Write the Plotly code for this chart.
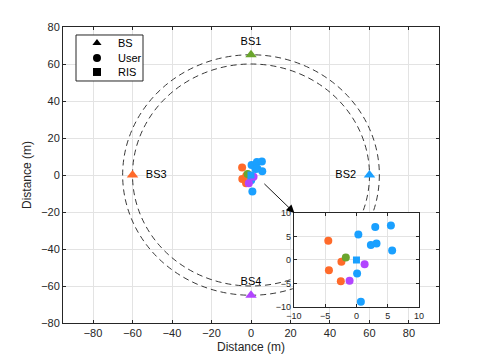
import plotly.graph_objects as go

# base stations
bs_names = ['BS1', 'BS2', 'BS3', 'BS4']
bs_x = [0, 60, -60, 0]
bs_y = [65, 0, 0, -65]
bs_colors = ['#6aa52d', '#1aa0ff', '#ff6a2a', '#b245ff']
bs_textpos = ['top center', 'middle left', 'middle right', 'top center']

# users grouped by serving BS
users = {
    'BS3': ([-4.5, -2.4, -4.4, -2.5], [4.1, -0.4, -2.2, -4.5], '#ff6a2a'),
    'BS1': ([-1.7], [0.5], '#6aa52d'),
    'BS2': ([0.3, 3.0, 5.5, 2.3, 3.2, 5.7, 0.1, 0.7],
            [5.4, 7.0, 7.3, 3.2, 3.5, 2.0, -2.9, -8.9], '#1aa0ff'),
    'BS4': ([1.3, -1.1], [-0.9, -4.4], '#b245ff'),
}

ris_x = [0]
ris_y = [0]

radii = [60, 65]
main_ticks = [-80, -60, -40, -20, 0, 20, 40, 60, 80]
inset_ticks = [-10, -5, 0, 5, 10]

legend_labels = ['BS', 'User', 'RIS']
legend_symbols = ['triangle-up', 'circle', 'square']
legend_rows = [0.826, 0.5, 0.196]

FONT = 'Liberation Sans, Arial, sans-serif'
AX_COL = '#262626'
GRID_COL = '#e3e3e3'

fig = go.Figure()

# users + RIS in main axes and in inset
for xa, ya in [('x', 'y'), ('x2', 'y2')]:
    for name, (ux, uy, col) in users.items():
        fig.add_trace(go.Scatter(x=ux, y=uy, mode='markers', xaxis=xa, yaxis=ya,
                                 marker=dict(symbol='circle', size=8, color=col),
                                 showlegend=False, hoverinfo='skip'))
    fig.add_trace(go.Scatter(x=ris_x, y=ris_y, mode='markers', xaxis=xa, yaxis=ya,
                             marker=dict(symbol='square', size=7, color='#1aa0ff'),
                             showlegend=False, hoverinfo='skip'))

# base stations with labels
for i in range(4):
    fig.add_trace(go.Scatter(x=[bs_x[i]], y=[bs_y[i]], mode='markers+text',
                             text=['  ' + bs_names[i] + '  ' if bs_textpos[i].startswith('middle') else bs_names[i]],
                             textposition=bs_textpos[i],
                             textfont=dict(size=11, color='#000000', family=FONT),
                             marker=dict(symbol='triangle-up', size=10, color=bs_colors[i]),
                             showlegend=False, hoverinfo='skip'))

# hand-made legend (plotly's own legend rows are too tall)
fig.add_trace(go.Scatter(x=[0.313] * 3, y=legend_rows, mode='markers', xaxis='x3', yaxis='y3',
                         marker=dict(symbol=legend_symbols, size=8, color='black'),
                         showlegend=False, hoverinfo='skip'))
for lbl, yy in zip(legend_labels, legend_rows):
    fig.add_annotation(x=0.6, y=yy, xref='x3', yref='y3', text=lbl, showarrow=False,
                       xanchor='left', font=dict(family=FONT, size=11, color='black'))

# dashed coverage circles
for r in radii:
    fig.add_shape(type='circle', xref='x', yref='y', x0=-r, x1=r, y0=-r, y1=r,
                  line=dict(color='#222222', width=0.9, dash='6px,4px'), layer='between')

# arrow from cluster to inset
fig.add_annotation(x=22, y=-20.5, ax=6, ay=-4, xref='x', yref='y', axref='x', ayref='y',
                   showarrow=True, arrowhead=2, arrowsize=1.8, arrowwidth=0.9,
                   arrowcolor='black', text='')

axis_common = dict(showline=True, mirror='ticks', linecolor=AX_COL, linewidth=1,
                   ticks='inside', ticklen=3, tickcolor=AX_COL, automargin=False,
                   showgrid=True, gridcolor=GRID_COL, gridwidth=1, zeroline=False,
                   tickfont=dict(family=FONT, size=11, color=AX_COL))
inset_axis = {**axis_common, 'tickfont': dict(family=FONT, size=9, color=AX_COL)}

# page body adds an 8px offset, so the figure is a bit smaller than the window
fig.update_layout(
    width=477, height=355,
    margin=dict(l=55, r=46, t=19, b=40),
    paper_bgcolor='white', plot_bgcolor='white',
    font=dict(family=FONT, color=AX_COL),
    showlegend=False,
    xaxis=dict(range=[-95.2, 95.2], tickvals=main_ticks, domain=[0, 1],
               title=dict(text='Distance (m)', font=dict(size=12), standoff=4), **axis_common),
    yaxis=dict(range=[-80, 80], tickvals=main_ticks, domain=[0, 1],
               title=dict(text='Distance (m)', font=dict(size=12), standoff=6), **axis_common),
    xaxis2=dict(range=[-10, 10], tickvals=inset_ticks, domain=[0.614, 0.947], anchor='y2', **inset_axis),
    yaxis2=dict(range=[-10, 10], tickvals=inset_ticks, domain=[0.054, 0.372], anchor='x2', **inset_axis),
    xaxis3=dict(range=[0, 1], domain=[0.0346, 0.2128], anchor='y3', visible=False, fixedrange=True),
    yaxis3=dict(range=[0, 1], domain=[0.8176, 0.973], anchor='x3', visible=False, fixedrange=True),
)

# legend box outline
fig.add_shape(type='rect', xref='paper', yref='paper', x0=0.0346, x1=0.2128, y0=0.8176, y1=0.973,
              line=dict(color=AX_COL, width=1), fillcolor='rgba(0,0,0,0)', layer='above')

fig.write_html("out.html")
